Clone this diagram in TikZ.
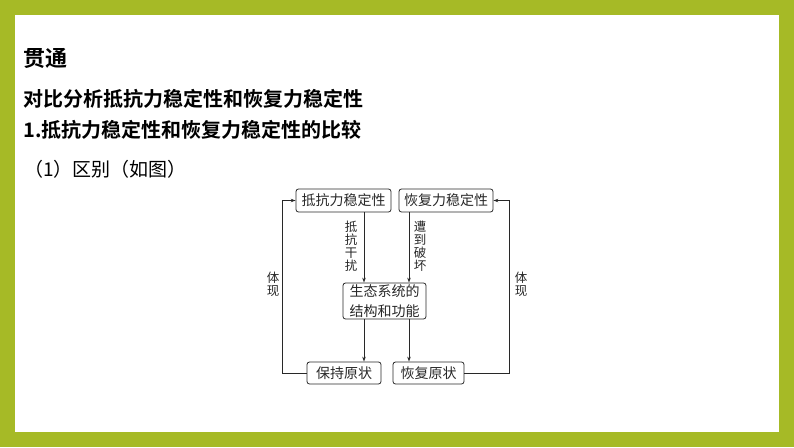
\documentclass[tikz,border=0pt]{standalone}
\usepackage{fontspec}
\newfontfamily\cjk[BoldFont=Noto Sans CJK SC Bold]{Noto Sans CJK SC}
\usetikzlibrary{arrows.meta}
\definecolor{frame}{RGB}{166,186,38}
\definecolor{ln}{RGB}{40,40,40}
\begin{document}
\begin{tikzpicture}[x=1pt,y=-1pt,
  box/.style={draw=ln,line width=0.8pt,rounded corners=2.5pt,inner sep=0pt,
     font=\cjk\fontsize{14}{20}\selectfont,align=center,text=ln},
  arr/.style={draw=ln,line width=0.8pt,-{Stealth[length=5pt,width=3.5pt]}},
  vlab/.style={font=\cjk\fontsize{12.5}{13}\selectfont,align=center,inner sep=0pt,text=ln},
  head/.style={anchor=west,inner sep=0pt,font=\cjk\bfseries\fontsize{20}{24}\selectfont}]
\fill[frame] (0,0) rectangle (794,447);
\fill[white] (15,15) rectangle (779,432);
\useasboundingbox (0,0) rectangle (794,447);
\node[head,font=\cjk\bfseries\fontsize{22}{26}\selectfont] (h1) at (23,58) {贯通};
\node[head] (h2) at (23,99) {对比分析抵抗力稳定性和恢复力稳定性};
\node[head] (h3) at (23,130) {1.抵抗力稳定性和恢复力稳定性的比较};
\node[anchor=west,inner sep=0pt,font=\cjk\fontsize{19}{24}\selectfont] (h4) at (24,169) {（1）区别（如图）};
\node[box,minimum width=95pt,minimum height=23pt] (b1) at (343.5,200.5) {抵抗力稳定性};
\node[box,minimum width=94pt,minimum height=23pt] (b2) at (446,200.5) {恢复力稳定性};
\node[box,minimum width=83pt,minimum height=36pt] (m) at (384.5,301) {生态系统的\\结构和功能};
\node[box,minimum width=74pt,minimum height=22pt] (b3) at (344,373) {保持原状};
\node[box,minimum width=71pt,minimum height=22pt] (b4) at (428.5,373) {恢复原状};
\coordinate (xl) at (364,0);
\coordinate (xr) at (409,0);
\draw[arr] (b1.south -| xl) -- (m.north -| xl);
\draw[arr] (b2.south -| xr) -- (m.north -| xr);
\draw[arr] (m.south -| xl) -- (b3.north -| xl);
\draw[arr] (m.south -| xr) -- (b4.north -| xr);
\coordinate (lx) at (282,0);
\coordinate (rx) at (509,0);
\draw[arr] (b3.west) -- (b3.west -| lx) |- (b1.west);
\draw[arr] (b4.east) -- (b4.east -| rx) |- (b2.east);
\node[vlab] (l1) at (351,246) {抵\\抗\\干\\扰};
\node[vlab] (l2) at (420,246) {遭\\到\\破\\坏};
\node[vlab] (l3) at (273,284) {体\\现};
\node[vlab] (l4) at (521,284) {体\\现};
\end{tikzpicture}
\end{document}
